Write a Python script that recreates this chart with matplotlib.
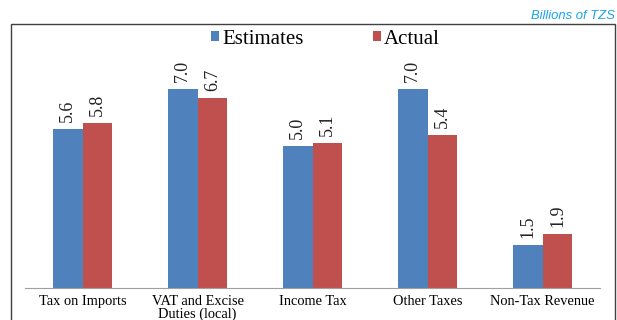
import matplotlib.pyplot as plt
from matplotlib.patches import Rectangle
import numpy as np

categories = ['Tax on Imports', 'VAT and Excise\nDuties (local)', 'Income Tax',
              'Other Taxes', 'Non-Tax Revenue']
estimates = [5.6, 7.0, 5.0, 7.0, 1.5]
actual = [5.8, 6.7, 5.1, 5.4, 1.9]

blue = '#4F81BD'
red = '#C0504D'

plt.rcParams['font.family'] = ['Liberation Serif', 'DejaVu Serif']

fig = plt.figure(figsize=(6.17, 3.2), dpi=100)

# outer frame around the chart
fig.patches.append(Rectangle((11 / 617, -0.05), 604 / 617, 1.05 - 24 / 320,
                             transform=fig.transFigure, fill=False,
                             edgecolor='#404040', linewidth=1.0))
fig.text(615 / 617, 1 - 16 / 320, 'Billions of TZS', ha='right', va='center',
         fontsize=9.4, style='italic', color='#1AA3E8', family='Liberation Sans')

ax = fig.add_axes([25 / 617, 32 / 320, 575 / 617, 258 / 320])
x = np.arange(len(categories))
w = 0.26
b1 = ax.bar(x - w / 2, estimates, w, color=blue, label='Estimates')
b2 = ax.bar(x + w / 2, actual, w, color=red, label='Actual')

for bars, vals in ((b1, estimates), (b2, actual)):
    for r, v in zip(bars, vals):
        ax.annotate(f'{v:.1f}', (r.get_x() + r.get_width() / 2, v),
                    xytext=(0, 5), textcoords='offset points',
                    ha='center', va='bottom', rotation=90, fontsize=13,
                    color='#222222')

ax.set_xlim(-0.5, len(categories) - 0.5)
ax.set_ylim(0, 258 / 28.4)
ax.set_xticks(x)
ax.set_xticklabels(categories, fontsize=10.4, linespacing=0.95)
ax.tick_params(axis='x', length=0, pad=5)
ax.set_yticks([])
for s in ('top', 'right', 'left'):
    ax.spines[s].set_visible(False)
ax.spines['bottom'].set_color('#A0A0A0')
ax.patch.set_visible(False)

ax.legend(loc='center', bbox_to_anchor=(0.5226, 0.965), ncol=2,
          frameon=False, fontsize=15, handlelength=0.4, handleheight=0.4,
          handletextpad=0.15, columnspacing=3.3, borderpad=0)

fig.savefig('out.png', dpi=100)
